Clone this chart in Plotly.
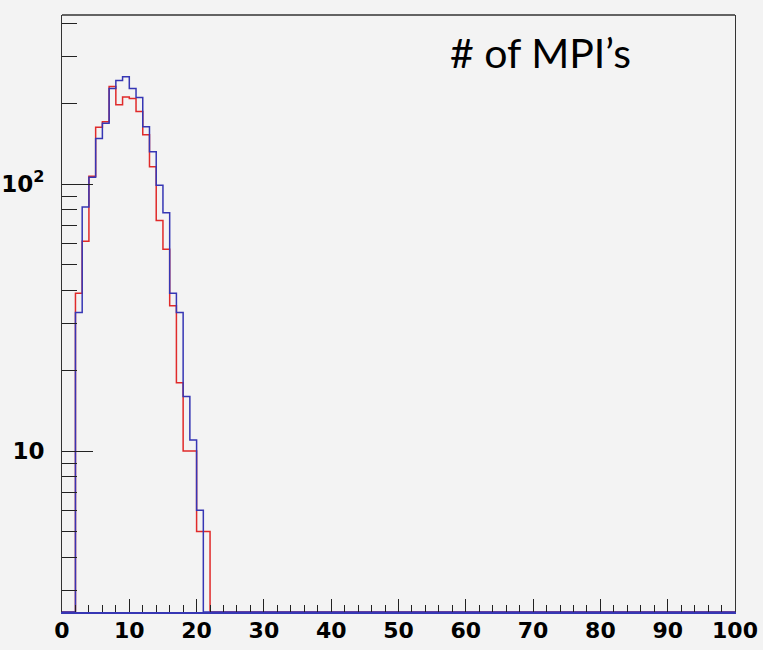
import numpy as np
import plotly.graph_objects as go

# ---------------- data ----------------
n_bins = 100
bin_edges = list(range(0, n_bins + 1))

blue_first_bin = 2
blue_counts = [33, 82, 106, 148, 169, 228, 244, 252, 228, 211, 164, 132, 99, 78, 39, 33, 16, 11, 6]

red_first_bin = 2
red_counts = [39, 61, 107, 163, 171, 232, 198, 212, 209, 187, 153, 116, 73, 57, 35, 18, 10, 10, 5, 5]

x_tick_vals = [0, 10, 20, 30, 40, 50, 60, 70, 80, 90, 100]
x_tick_text = ["0", "10", "20", "30", "40", "50", "60", "70", "80", "90", "100"]
y_tick_vals = [10, 100]
y_tick_text = ["10", "10<sup>2</sup>"]
y_minor_vals = [3, 4, 5, 6, 7, 8, 9, 20, 30, 40, 50, 60, 70, 80, 90, 200, 300, 400]
y_range_log = [0.397, 2.633]

title_text = "# of MPI\u2019s"

RED = "#e02a2a"
BLUE = "#3636b4"


def full_hist(first, counts):
    h = np.zeros(n_bins)
    h[first:first + len(counts)] = counts
    return h


def step_xy(h):
    floor = 10 ** y_range_log[0]
    y = np.where(h > 0, h, floor)
    y = np.append(y, y[-1])
    return bin_edges, y


fig = go.Figure()
for first, counts, col in [(red_first_bin, red_counts, RED), (blue_first_bin, blue_counts, BLUE)]:
    xs, ys = step_xy(full_hist(first, counts))
    fig.add_trace(go.Scatter(x=xs, y=ys, mode="lines", line=dict(color=col, width=1.5, shape="hv"),
                             showlegend=False, hoverinfo="skip"))

x_tick_font = dict(family="DejaVu Sans", size=22, color="black", weight="bold")
y_tick_font = dict(family="DejaVu Sans", size=23, color="black", weight="bold")

fig.update_layout(
    width=763, height=650,
    margin=dict(l=62, r=28, t=15, b=38),
    paper_bgcolor="#f3f3f3", plot_bgcolor="#f3f3f3",
    showlegend=False,
    xaxis=dict(range=[0, 100], tickmode="array", tickvals=x_tick_vals, ticktext=x_tick_text,
               ticks="inside", ticklen=13, tickwidth=1, tickcolor="#222",
               minor=dict(dtick=2, ticks="inside", ticklen=7, tickcolor="#222", tickwidth=1),
               showline=True, linecolor=BLUE, linewidth=1.5, mirror=False, automargin=False,
               showgrid=False, zeroline=False, tickfont=x_tick_font, ticklabelstandoff=-2),
    yaxis=dict(type="log", range=y_range_log, tickmode="array", tickvals=y_tick_vals, ticktext=y_tick_text,
               ticks="inside", ticklen=31, tickwidth=1, tickcolor="#222",
               minor=dict(tickmode="array", tickvals=y_minor_vals, ticks="inside", ticklen=15,
                          tickcolor="#222", tickwidth=1),
               showline=True, linecolor="#333", linewidth=1, mirror=True, automargin=False,
               showgrid=False, zeroline=False, tickfont=y_tick_font, ticklabelstandoff=12),
    shapes=[dict(type="line", xref="paper", yref="paper", x0=0, x1=1, y0=1, y1=1,
                 line=dict(color="#333", width=1.5))],
    annotations=[dict(text=title_text, xref="paper", yref="paper", x=0.5736, y=0.937,
                      xanchor="left", yanchor="middle", showarrow=False,
                      font=dict(family="Lato", size=41, color="black"))],
)

fig.write_html("out.html")
